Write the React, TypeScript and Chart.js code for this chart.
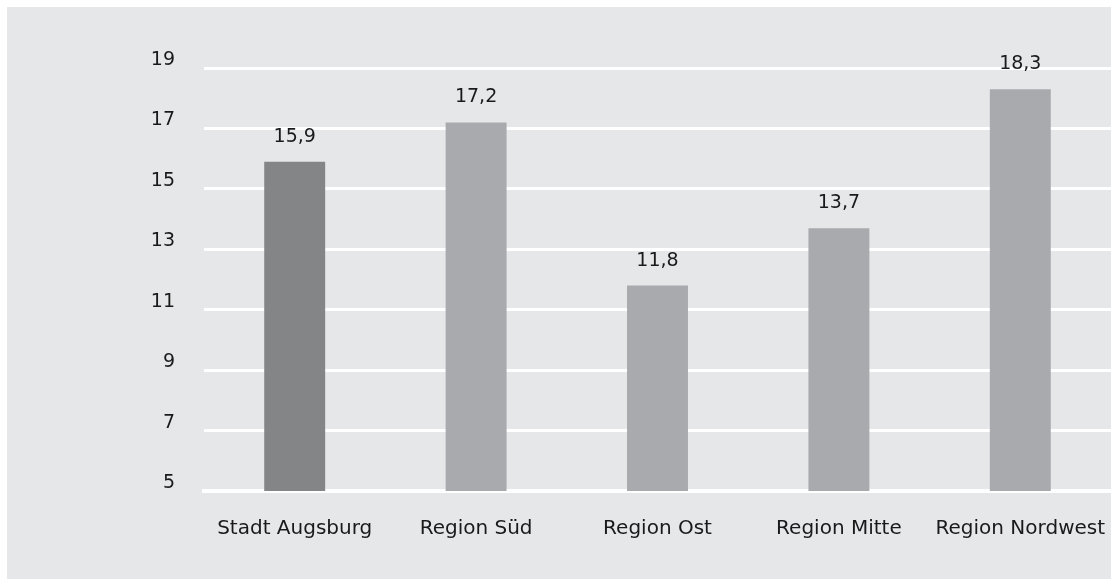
import React, { useEffect, useRef } from "react";
import { Chart, registerables } from "chart.js";

Chart.register(...registerables);

const categories = ["Stadt Augsburg", "Region Süd", "Region Ost", "Region Mitte", "Region Nordwest"];
const values = [15.9, 17.2, 11.8, 13.7, 18.3];
const barColors = ["#848587", "#a9aaad", "#a9aaad", "#a9aaad", "#a9aaad"];
const yMin = 5;
const yMax = 19;
const yStep = 2;

const FONT = '"DejaVu Sans", "Liberation Sans", sans-serif';
const TEXT = "#1a1a1a";

const valueLabels = {
  id: "valueLabels",
  afterDatasetsDraw(chart: any) {
    const ctx = chart.ctx;
    const meta = chart.getDatasetMeta(0);
    ctx.save();
    ctx.font = `19px ${FONT}`;
    ctx.fillStyle = TEXT;
    ctx.textAlign = "center";
    ctx.textBaseline = "alphabetic";
    meta.data.forEach((bar: any, i: number) => {
      ctx.fillText(values[i].toFixed(1).replace(".", ","), bar.x, bar.y - 20);
    });
    ctx.restore();
  },
};

export default function App() {
  const ref = useRef<HTMLCanvasElement>(null);

  useEffect(() => {
    if (!ref.current) return;
    const chart = new Chart(ref.current, {
      type: "bar",
      data: {
        labels: categories,
        datasets: [
          {
            data: values,
            backgroundColor: barColors,
            borderWidth: 0,
            barPercentage: 0.336,
            categoryPercentage: 1,
          },
        ],
      },
      options: {
        animation: false,
        responsive: false,
        devicePixelRatio: 1,
        layout: { padding: { top: 61, right: 0, left: 0, bottom: 0 } },
        plugins: {
          legend: { display: false },
          tooltip: { enabled: false },
        },
        scales: {
          y: {
            min: yMin,
            max: yMax,
            ticks: {
              stepSize: yStep,
              padding: 29,
              labelOffset: -8,
              color: TEXT,
              font: { family: FONT, size: 19 },
            },
            grid: { color: "#ffffff", lineWidth: 3, drawTicks: false },
            border: { display: false },
            afterFit: (s: any) => {
              s.width = 197;
              s.paddingTop = 0;
              s.paddingBottom = 0;
            },
          },
          x: {
            grid: { display: false, drawTicks: false },
            border: { display: true, color: "#ffffff", width: 4 },
            ticks: {
              padding: 26,
              color: TEXT,
              maxRotation: 0,
              autoSkip: false,
              font: { family: FONT, size: 20 },
            },
            afterFit: (s: any) => {
              s.height = 88;
              s.paddingLeft = 0;
              s.paddingRight = 0;
            },
          },
        },
      },
      plugins: [valueLabels],
    });
    return () => chart.destroy();
  }, []);

  return (
    <div
      style={{
        position: "fixed",
        left: 0,
        top: 0,
        width: 1111,
        height: 579,
        background: "#ffffff",
        overflow: "hidden",
      }}
    >
      <div
        style={{
          position: "absolute",
          left: 7,
          top: 7,
          width: 1104,
          height: 572,
          background: "#e6e7e9",
        }}
      >
        <canvas ref={ref} width={1104} height={572} style={{ display: "block", width: 1104, height: 572 }} />
      </div>
    </div>
  );
}
